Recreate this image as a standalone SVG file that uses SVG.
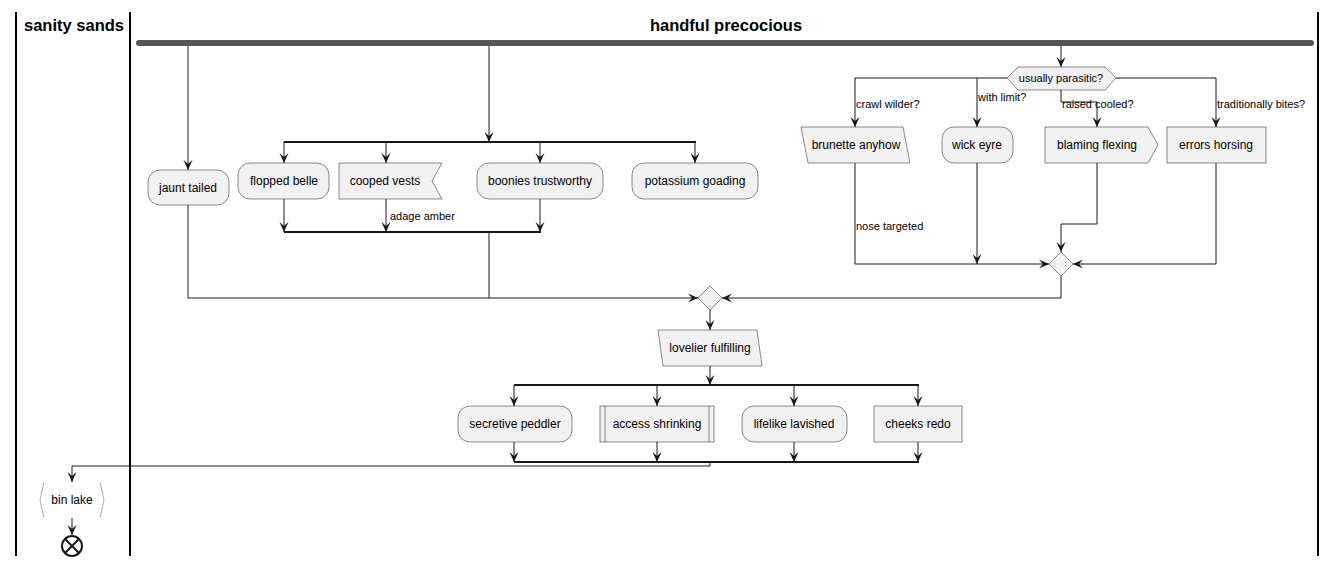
<svg xmlns="http://www.w3.org/2000/svg" width="1337" height="567" viewBox="0 0 1337 567">
<defs>
<style>
.lane{stroke:#000;stroke-width:2}
.title{font-family:"Liberation Sans",Arial,sans-serif;font-size:16.5px;font-weight:bold;fill:#000;text-anchor:middle}
.box{fill:#F1F1F1;stroke:#181818;stroke-width:0.5}
.t{font-family:"Liberation Sans",Arial,sans-serif;font-size:12px;fill:#000;text-anchor:middle}
.d{font-family:"Liberation Sans",Arial,sans-serif;font-size:11px;fill:#000;text-anchor:middle}
.lbl{font-family:"Liberation Sans",Arial,sans-serif;font-size:11px;fill:#000}
.c{fill:none;stroke:#181818;stroke-width:1}
.a{fill:none;stroke:#181818;stroke-width:1;marker-end:url(#arr)}
.bar{fill:none;stroke:#181818;stroke-width:2}
</style>
<marker id="arr" viewBox="-11 -6 12 12" refX="0" refY="0" markerWidth="12" markerHeight="12" markerUnits="userSpaceOnUse" orient="auto">
<path d="M0,0 L-10,-4.5 L-6,0 L-10,4.5 Z" fill="#181818"/>
</marker>
</defs>
<rect width="1337" height="567" fill="#fff"/>
<g id="lanes">
<line class="lane" x1="16" y1="12" x2="16" y2="556"/>
<line class="lane" x1="130" y1="12" x2="130" y2="556"/>
<line class="lane" x1="1318" y1="12" x2="1318" y2="556"/>
<text class="title" x="74" y="31">sanity sands</text>
<text class="title" x="726" y="31">handful precocious</text>
</g>
<g id="fork-top"><rect x="136" y="40" width="1178" height="6" rx="3" fill="#555555"/></g>
<g id="connectors">
<path class="a" d="M188,46 V170"/>
<path class="a" d="M489,46 V142"/>
<path class="a" d="M1061,46 V67"/>
<path class="bar" d="M284,142 H696"/>
<path class="a" d="M284,142 V163"/>
<path class="a" d="M386,142 V163"/>
<path class="a" d="M540,142 V163"/>
<path class="a" d="M695,142 V163"/>
<path class="bar" d="M284,232 H541"/>
<path class="a" d="M284,199 V232"/>
<path class="a" d="M386,199 V232"/>
<path class="a" d="M540,199 V232"/>
<path class="c" d="M489,232 V298"/>
<path class="a" d="M188,205 V298 H698"/>
<path class="a" d="M1007,78 H855 V127"/>
<path class="a" d="M977,78 V127"/>
<path class="a" d="M1061,90 V102 H1097 V127"/>
<path class="a" d="M1116,78 H1216 V127"/>
<path class="a" d="M855,163 V264 H1049"/>
<path class="a" d="M977,163 V264"/>
<path class="a" d="M1097,163 V224 H1061 V252"/>
<path class="a" d="M1216,163 V264 H1073"/>
<path class="a" d="M1061,276 V298 H722"/>
<path class="a" d="M710,310 V330"/>
<path class="a" d="M710,366 V385"/>
<path class="bar" d="M514,385 H919"/>
<path class="a" d="M514,385 V406"/>
<path class="a" d="M657,385 V406"/>
<path class="a" d="M794,385 V406"/>
<path class="a" d="M918,385 V406"/>
<path class="bar" d="M514,462 H919"/>
<path class="a" d="M514,442 V462"/>
<path class="a" d="M657,442 V462"/>
<path class="a" d="M794,442 V462"/>
<path class="a" d="M918,442 V462"/>
<path class="a" d="M710,462 V466 H72 V482"/>
<path class="a" d="M72,518 V535"/>
<text class="lbl" x="390" y="220">adage amber</text>
<text class="lbl" x="856" y="108">crawl wilder?</text>
<text class="lbl" x="978" y="101">with limit?</text>
<text class="lbl" x="1062" y="108">raised cooled?</text>
<text class="lbl" x="1217" y="108">traditionally bites?</text>
<text class="lbl" x="856" y="230">nose targeted</text>
</g>
<g id="jaunt-tailed"><rect class="box" x="148" y="170" width="81" height="35" rx="12"/><text class="t" x="188" y="192">jaunt tailed</text></g>
<g id="flopped-belle"><rect class="box" x="238" y="163" width="91" height="36" rx="12"/><text class="t" x="284" y="185">flopped belle</text></g>
<g id="cooped-vests"><polygon class="box" points="339,163 442,163 432,181 442,199 339,199"/><text class="t" x="385" y="185">cooped vests</text></g>
<g id="boonies-trustworthy"><rect class="box" x="477" y="163" width="126" height="36" rx="12"/><text class="t" x="540" y="185">boonies trustworthy</text></g>
<g id="potassium-goading"><rect class="box" x="632" y="163" width="126" height="36" rx="12"/><text class="t" x="695" y="185">potassium goading</text></g>
<g id="usually-parasitic"><polygon class="box" points="1007,78 1018,67 1105,67 1116,78 1105,90 1018,90"/><text class="d" x="1061" y="82">usually parasitic?</text></g>
<g id="brunette-anyhow"><polygon class="box" points="801,127 903,127 910,163 808,163"/><text class="t" x="856" y="149">brunette anyhow</text></g>
<g id="wick-eyre"><rect class="box" x="942" y="127" width="71" height="36" rx="12"/><text class="t" x="977" y="149">wick eyre</text></g>
<g id="blaming-flexing"><polygon class="box" points="1045,127 1148,127 1158,145 1148,163 1045,163"/><text class="t" x="1097" y="149">blaming flexing</text></g>
<g id="errors-horsing"><rect class="box" x="1167" y="127" width="99" height="36"/><text class="t" x="1216" y="149">errors horsing</text></g>
<g id="merge-right"><polygon class="box" points="1061,252 1073,264 1061,276 1049,264"/></g>
<g id="merge-main"><polygon class="box" points="710,286 722,298 710,310 698,298"/></g>
<g id="lovelier-fulfilling"><polygon class="box" points="658,330 757,330 762,366 663,366"/><text class="t" x="710" y="352">lovelier fulfilling</text></g>
<g id="secretive-peddler"><rect class="box" x="458" y="406" width="114" height="36" rx="12"/><text class="t" x="515" y="428">secretive peddler</text></g>
<g id="access-shrinking"><rect class="box" x="600" y="406" width="114" height="36"/><line class="box" x1="605" y1="406" x2="605" y2="442"/><line class="box" x1="709" y1="406" x2="709" y2="442"/><text class="t" x="657" y="428">access shrinking</text></g>
<g id="lifelike-lavished"><rect class="box" x="742" y="406" width="105" height="36" rx="12"/><text class="t" x="794" y="428">lifelike lavished</text></g>
<g id="cheeks-redo"><rect class="box" x="874" y="406" width="88" height="36"/><text class="t" x="918" y="428">cheeks redo</text></g>
<g id="bin-lake"><polyline points="44,482 40,500 44,518" fill="none" stroke="#aaaaaa" stroke-width="1"/><polyline points="100,482 104,500 100,518" fill="none" stroke="#aaaaaa" stroke-width="1"/><text class="t" x="72" y="504">bin lake</text></g>
<g id="end"><circle cx="72" cy="546" r="10" fill="#fff" stroke="#181818" stroke-width="2"/><path d="M65,539 L79,553 M79,539 L65,553" stroke="#181818" stroke-width="2"/></g>
</svg>
